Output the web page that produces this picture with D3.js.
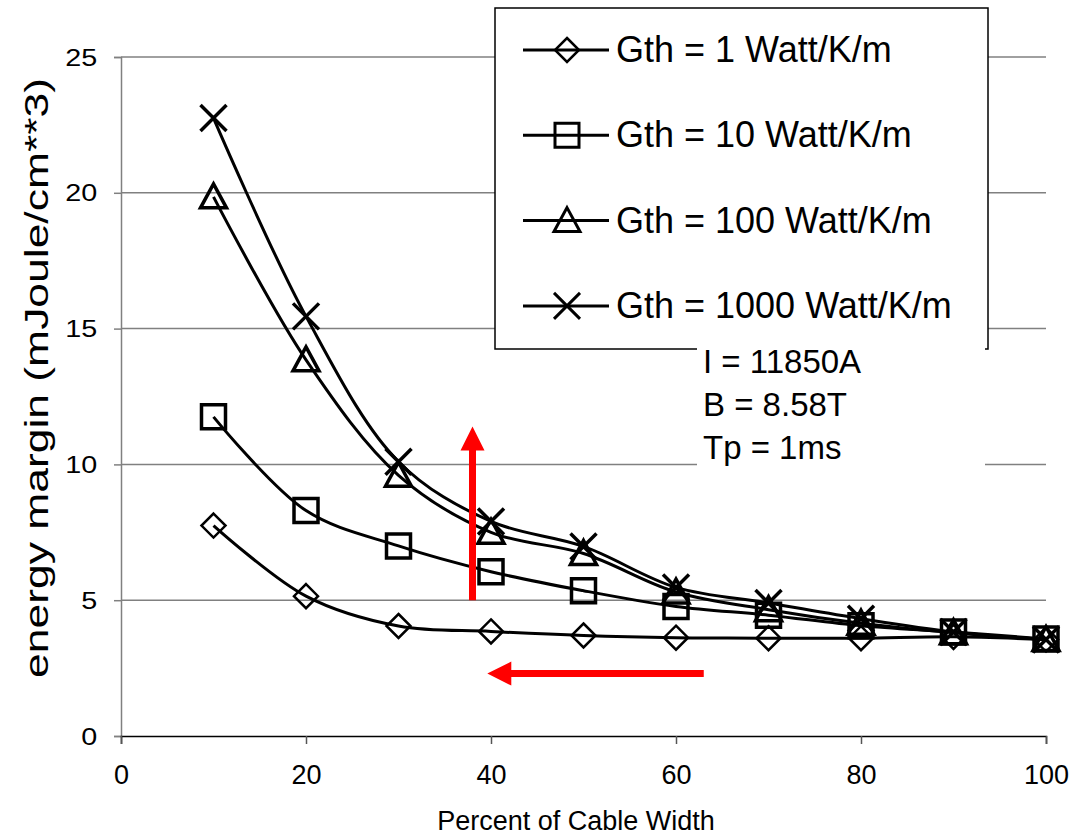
<!DOCTYPE html>
<html>
<head>
<meta charset="utf-8">
<script src="https://cdn.jsdelivr.net/npm/d3@7"></script>
<style>
  body { margin: 0; background: #fff; }
  text { font-family: Arial, "Liberation Sans", sans-serif; fill: #000; }
</style>
</head>
<body>
<svg id="chart"></svg>
<script>
var width = 1071, height = 835;
var margin = {top: 57, right: 25, bottom: 99, left: 121};

// values
var percent = [10, 20, 30, 40, 50, 60, 70, 80, 90, 100];
var gth1    = [7.75, 5.15, 4.05, 3.85, 3.7, 3.62, 3.6, 3.6, 3.65, 3.55];
var gth10   = [11.75, 8.3, 7.0, 6.05, 5.35, 4.77, 4.45, 4.06, 3.83, 3.57];
var gth100  = [19.85, 13.85, 9.6, 7.5, 6.72, 5.3, 4.65, 4.15, 3.8, 3.55];
var gth1000 = [22.75, 15.45, 10.1, 7.9, 6.98, 5.47, 4.9, 4.32, 3.83, 3.55];
var seriesNames = ["Gth = 1 Watt/K/m", "Gth = 10 Watt/K/m", "Gth = 100 Watt/K/m", "Gth = 1000 Watt/K/m"];
var markerTypes = ["diamond", "square", "triangle", "cross"];
var xTicks = [0, 20, 40, 60, 80, 100];
var yTicks = [0, 5, 10, 15, 20, 25];
var infoLines = ["I = 11850A", "B = 8.58T", "Tp = 1ms"];
var arrowUp = {x: 38, from: 5.0, to: 11.4};
var arrowLeft = {y: 2.3, from: 63, to: 39.6};

var allSeries = [gth1, gth10, gth100, gth1000];

var svg = d3.select("#chart")
  .attr("width", width)
  .attr("height", height);

svg.append("rect").attr("width", width).attr("height", height).attr("fill", "#fff");

var x = d3.scaleLinear().domain([0, 100]).range([margin.left, width - margin.right]);
var y = d3.scaleLinear().domain([0, 25]).range([height - margin.bottom, margin.top]);

// gridlines
svg.append("g")
  .selectAll("line")
  .data(yTicks.filter(function(d) { return d > 0; }))
  .enter().append("line")
  .attr("x1", x(0)).attr("x2", x(100))
  .attr("y1", function(d) { return y(d); })
  .attr("y2", function(d) { return y(d); })
  .attr("stroke", "#808080")
  .attr("stroke-width", 1.5);

// y axis
var leftAxis = d3.axisLeft(y).tickValues(yTicks).tickSize(7);
svg.append("g")
  .attr("transform", "translate(" + x(0) + ",0)")
  .call(customYAxis);

function customYAxis(g) {
  g.call(leftAxis);
  g.select(".domain").attr("stroke", "#808080").attr("stroke-width", 1.5);
  g.selectAll(".tick line").attr("stroke", "#808080").attr("stroke-width", 1.5);
  // labels in the picture are drawn wide
  g.selectAll(".tick text")
    .attr("font-size", 23)
    .attr("font-family", "Arial, 'Liberation Sans', sans-serif")
    .attr("x", -19)
    .attr("dy", "0.35em")
    .attr("transform", "scale(1.25,1)");
}

// x axis
var xAxis = d3.axisBottom(x).tickValues(xTicks).tickSize(8).tickPadding(21);
svg.append("g")
  .attr("transform", "translate(0," + y(0) + ")")
  .call(customXAxis);

function customXAxis(g) {
  g.call(xAxis);
  g.select(".domain").attr("stroke", "#000").attr("stroke-width", 1.5);
  g.selectAll(".tick line").attr("stroke", "#555").attr("stroke-width", 1.5);
  g.selectAll(".tick text")
    .attr("font-size", 27)
    .attr("font-family", "Arial, 'Liberation Sans', sans-serif");
}

// axis titles
svg.append("text")
  .attr("x", 576).attr("y", 830)
  .attr("text-anchor", "middle")
  .attr("font-size", 27)
  .text("Percent of Cable Width");

svg.append("text")
  .attr("transform", "translate(48,378) rotate(-90)")
  .attr("text-anchor", "middle")
  .attr("font-size", 33)
  .attr("textLength", 600)
  .attr("lengthAdjust", "spacingAndGlyphs")
  .text("energy margin (mJoule/cm**3)");

// legend
var legend = svg.append("g");
legend.append("rect")
  .attr("x", 495).attr("y", 8)
  .attr("width", 493).attr("height", 341)
  .attr("fill", "#fff")
  .attr("stroke", "#000")
  .attr("stroke-width", 1.5);

var rows = legend.selectAll("g.row")
  .data(seriesNames)
  .enter().append("g")
  .attr("class", "row")
  .attr("transform", function(d, i) { return "translate(0," + (50 + i * 85.3) + ")"; });

rows.append("line")
  .attr("x1", 523).attr("x2", 609)
  .attr("stroke", "#000").attr("stroke-width", 3);

rows.append("path")
  .attr("transform", "translate(567,0)")
  .attr("d", function(d, i) { return markerPath(markerTypes[i]); })
  .attr("fill", "none")
  .attr("stroke", "#000")
  .attr("stroke-width", function(d, i) { return i == 0 ? 2.5 : 3; });

rows.append("text")
  .attr("x", 616).attr("y", 12)
  .attr("font-size", 36)
  .text(function(d) { return d; });

// info text box, sits over the legend border and the 10 gridline
var info = svg.append("g");
info.append("rect")
  .attr("x", 697).attr("y", 347)
  .attr("width", 288).attr("height", 125)
  .attr("fill", "#fff");
info.selectAll("text")
  .data(infoLines)
  .enter().append("text")
  .attr("x", 703)
  .attr("y", function(d, i) { return 373 + i * 43; })
  .attr("font-size", 33)
  .text(function(d) { return d; });

// marker shapes, centred on 0,0
function markerPath(type) {
  if (type == "diamond") return "M0,-12L12,0L0,12L-12,0Z";
  if (type == "square") return "M-12,-12H12V12H-12Z";
  if (type == "triangle") return "M0,-13L13,11H-13Z";
  return "M-13,-13L13,13M13,-13L-13,13";
}

var line = d3.line()
  .x(function(d) { return x(d[0]); })
  .y(function(d) { return y(d[1]); })
  .curve(d3.curveCatmullRom.alpha(0.5));

allSeries.forEach(function(vals, s) {
  var pts = percent.map(function(p, i) { return [p, vals[i]]; });
  var g = svg.append("g");
  g.append("path")
    .datum(pts)
    .attr("d", line)
    .attr("fill", "none")
    .attr("stroke", "#000")
    .attr("stroke-width", 3);
  g.selectAll("path.mk")
    .data(pts)
    .enter().append("path")
    .attr("class", "mk")
    .attr("transform", function(d) { return "translate(" + x(d[0]) + "," + y(d[1]) + ")"; })
    .attr("d", markerPath(markerTypes[s]))
    .attr("fill", "none")
    .attr("stroke", "#000")
    .attr("stroke-width", s == 0 ? 2.5 : 3.5);
});

// red arrows
function drawArrow(x1, y1, x2, y2) {
  var dx = x2 - x1, dy = y2 - y1;
  var len = Math.sqrt(dx * dx + dy * dy);
  var ux = dx / len, uy = dy / len;
  var headLen = 24, headHalf = 12, shaftHalf = 3.5;
  var bx = x2 - ux * headLen, by = y2 - uy * headLen;
  var px = -uy, py = ux;
  var pts = [
    [x1 + px * shaftHalf, y1 + py * shaftHalf],
    [bx + px * shaftHalf, by + py * shaftHalf],
    [bx + px * headHalf, by + py * headHalf],
    [x2, y2],
    [bx - px * headHalf, by - py * headHalf],
    [bx - px * shaftHalf, by - py * shaftHalf],
    [x1 - px * shaftHalf, y1 - py * shaftHalf]
  ];
  svg.append("polygon")
    .attr("points", pts.map(function(p) { return p.join(","); }).join(" "))
    .attr("fill", "#ff0000");
}

drawArrow(x(arrowUp.x), y(arrowUp.from), x(arrowUp.x), y(arrowUp.to));
drawArrow(x(arrowLeft.from), y(arrowLeft.y), x(arrowLeft.to), y(arrowLeft.y));
</script>
</body>
</html>
